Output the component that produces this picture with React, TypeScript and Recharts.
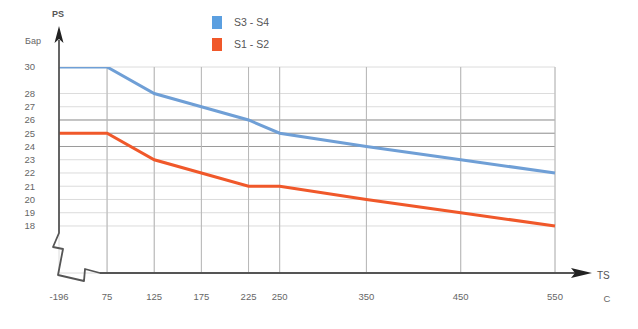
import React from 'react';
import { LineChart, Line, XAxis, YAxis, CartesianGrid, ReferenceLine } from 'recharts';

// Temperature categories (°C) and their positions on the hand-drawn (broken) axis
const tempLabels = ['-196', '75', '125', '175', '225', '250', '350', '450', '550'];
const tempAxisPos = [24, 75, 125, 175, 225, 258, 350, 450, 550];

// Pressure (bar) values
const s3s4 = [30, 30, 28, 27, 26, 25, 24, 23, 22];
const s1s2 = [25, 25, 23, 22, 21, 21, 20, 19, 18];

const yTicks = [30, 28, 27, 26, 25, 24, 23, 22, 21, 20, 19, 18];
const darkGrid = [26, 25, 24];

const seriesNames = ['S3 - S4', 'S1 - S2'];
const seriesColors = ['#6f9fd6', '#f0582a'];
const legendColors = ['#5b9fe0', '#f0582a'];

const data = tempAxisPos.map((x, i) => ({ x, label: tempLabels[i], s3s4: s3s4[i], s1s2: s1s2[i] }));
const labelFor = (v: number) => {
  const i = tempAxisPos.indexOf(v);
  return i >= 0 ? tempLabels[i] : '';
};

const FONT = '"Liberation Sans", Arial, sans-serif';

export default function App() {
  return (
    <div style={{ position: 'absolute', left: 0, top: 0, width: 638, height: 329, background: '#fff' }}>
      <LineChart width={638} height={329} data={data} margin={{ top: 67, right: 83, bottom: 0, left: 0 }}>
        <CartesianGrid stroke="#dcdcdc" strokeWidth={1} />
        <XAxis
          dataKey="x"
          type="number"
          domain={[24, 550]}
          ticks={tempAxisPos}
          tickFormatter={labelFor}
          axisLine={false}
          tickLine={false}
          tickSize={0}
          tickMargin={20}
          height={56}
          tick={{ fontSize: 9.5, fill: '#666', fontFamily: FONT }}
          interval={0}
        />
        <YAxis
          type="number"
          domain={[14.45, 30]}
          allowDataOverflow
          ticks={yTicks}
          axisLine={false}
          tickLine={false}
          tickSize={0}
          tickMargin={24}
          width={59}
          tick={{ fontSize: 9.5, fill: '#666', fontFamily: FONT }}
          interval={0}
        />
        {darkGrid.map((v) => (
          <ReferenceLine key={v} y={v} stroke="#9a9a9a" strokeWidth={1} />
        ))}
        {tempAxisPos.slice(1).map((v) => (
          <ReferenceLine key={'v' + v} x={v} stroke="#b8b8b8" strokeWidth={1} />
        ))}
        <Line
          type="linear"
          dataKey="s3s4"
          name={seriesNames[0]}
          stroke={seriesColors[0]}
          strokeWidth={3}
          dot={false}
          isAnimationActive={false}
        />
        <Line
          type="linear"
          dataKey="s1s2"
          name={seriesNames[1]}
          stroke={seriesColors[1]}
          strokeWidth={3}
          dot={false}
          isAnimationActive={false}
        />
      </LineChart>
      <div style={{ position: 'absolute', left: 212, top: 11, fontFamily: FONT, fontSize: 10.5, color: '#555' }}>
        {seriesNames.map((n, i) => (
          <div key={n} style={{ display: 'flex', alignItems: 'center', height: 22 }}>
            <div style={{ width: 10, height: 13, background: legendColors[i], marginRight: 12 }} />
            <span>{n}</span>
          </div>
        ))}
      </div>
      <svg
        width={638}
        height={329}
        style={{ position: 'absolute', left: 0, top: 0, pointerEvents: 'none' }}
      >
        <path
          d="M59,40 L59,233 L53,247 L63,249 L58,275 L84,281 L85,269 L100,273 L578,273"
          fill="none"
          stroke="#555"
          strokeWidth={1.8}
          strokeLinejoin="round"
        />
        <polygon points="59,26 54.5,43 59,39 63.5,43" fill="#222" />
        <polygon points="592,273 571,268 575,273 571,278" fill="#222" />
        <text x={58} y={17} textAnchor="middle" fontSize={9} fontWeight="bold" fill="#555" fontFamily={FONT}>PS</text>
        <text x={33} y={44} textAnchor="middle" fontSize={9} fill="#666" fontFamily={FONT}>Бар</text>
        <text x={597} y={279} fontSize={10} fill="#555" fontFamily={FONT}>TS</text>
        <text x={607} y={302} textAnchor="middle" fontSize={9.5} fill="#666" fontFamily={FONT}>C</text>
      </svg>
    </div>
  );
}
